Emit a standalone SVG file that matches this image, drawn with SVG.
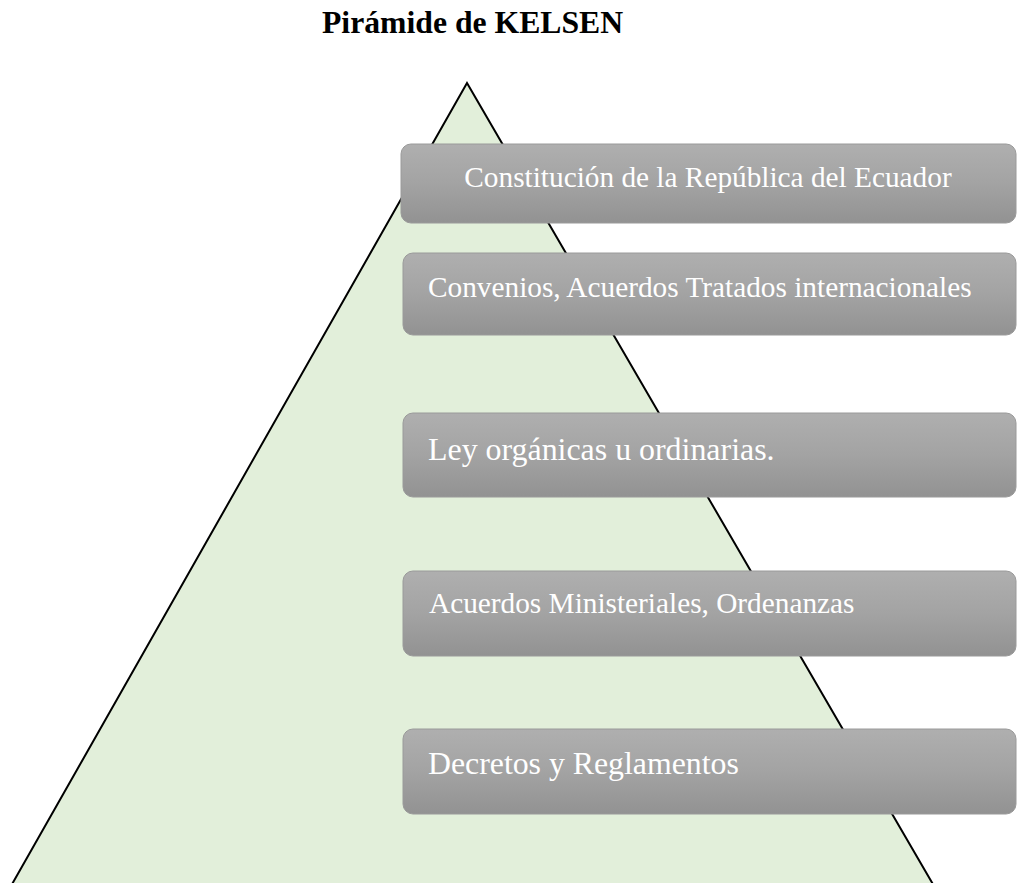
<svg xmlns="http://www.w3.org/2000/svg" width="1017" height="883" viewBox="0 0 1017 883">
<style>
.title{font-family:"Liberation Serif","Times New Roman",serif;font-weight:bold;font-size:31.7px;fill:#000}
.lbl{font-family:"Liberation Serif","Times New Roman",serif;fill:#fff}
.box{fill:url(#g);stroke:#9a9a9a;stroke-width:1}
</style>
<defs>
<linearGradient id="g" x1="0" y1="0" x2="0" y2="1">
<stop offset="0" stop-color="#afafaf"/>
<stop offset="0.5" stop-color="#a3a3a3"/>
<stop offset="1" stop-color="#929292"/>
</linearGradient>
</defs>
<rect width="1017" height="883" fill="#fff"/>
<text class="title" x="322" y="33">Pirámide de KELSEN</text>
<g id="pyramid">
<polygon points="467,83 11,886 934,886" fill="#e2efda" stroke="#000" stroke-width="2" stroke-linejoin="miter"/>
</g>
<g id="connectors"></g>
<g id="n1"><rect class="box" x="401" y="144" width="615" height="79" rx="10"/><text class="lbl" x="708" y="187" font-size="29.3" text-anchor="middle">Constitución de la República del Ecuador</text></g>
<g id="n2"><rect class="box" x="403" y="253" width="613" height="82" rx="10"/><text class="lbl" x="428" y="297" font-size="29.3">Convenios, Acuerdos Tratados internacionales</text></g>
<g id="n3"><rect class="box" x="403" y="413" width="613" height="84" rx="10"/><text class="lbl" x="428" y="460" font-size="31.9">Ley orgánicas u ordinarias.</text></g>
<g id="n4"><rect class="box" x="403" y="571" width="613" height="85" rx="10"/><text class="lbl" x="429" y="613" font-size="29.3">Acuerdos Ministeriales, Ordenanzas</text></g>
<g id="n5"><rect class="box" x="403" y="729" width="613" height="85" rx="10"/><text class="lbl" x="428" y="774" font-size="31.8">Decretos y Reglamentos</text></g>
</svg>
